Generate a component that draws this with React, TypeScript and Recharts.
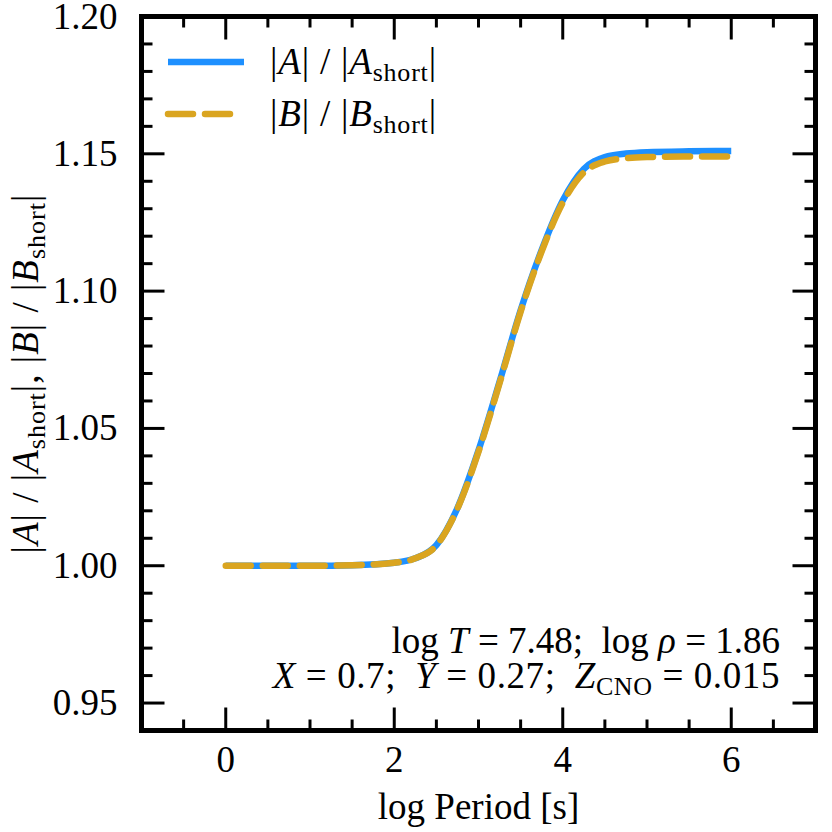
import React from 'react';
import { LineChart, Line, XAxis, YAxis, ReferenceArea, Customized } from 'recharts';

const logPeriod = [0, 0.5, 1, 1.5, 2, 2.25, 2.5, 2.75, 3, 3.25, 3.5, 3.75, 4, 4.25, 4.5, 4.75, 5, 5.5, 6];
const ratioA = [1.0, 1.0, 1.0, 1.0002, 1.0011, 1.0027, 1.0075, 1.021, 1.042, 1.067, 1.093, 1.115, 1.133, 1.1445, 1.1488, 1.1501, 1.1506, 1.1509, 1.151];
const ratioB = [1.0, 1.0, 1.0, 1.0002, 1.0011, 1.0027, 1.0074, 1.0208, 1.0415, 1.0665, 1.0925, 1.1145, 1.1322, 1.1432, 1.1472, 1.1484, 1.1488, 1.149, 1.149];

const xMajorTicks = [0, 2, 4, 6];
const xMinorTicks = [-0.5, 0.5, 1, 1.5, 2.5, 3, 3.5, 4.5, 5, 5.5, 6.5];
const yMajorTicks = [0.95, 1.0, 1.05, 1.1, 1.15, 1.2];
const yMinorTicks = [0.96, 0.97, 0.98, 0.99, 1.01, 1.02, 1.03, 1.04, 1.06, 1.07, 1.08, 1.09, 1.11, 1.12, 1.13, 1.14, 1.16, 1.17, 1.18, 1.19];

const legendLabels = ['A', 'B'];

const data = logPeriod.map((x, i) => ({ x, a: ratioA[i], b: ratioB[i] }));

const FONT = '"Liberation Serif", "Times New Roman", serif';
const FS = 37;
const SUB = 26;
const BLUE = '#1E90FF';
const GOLD = '#DAA520';
const DASH = '25 12';
const LW = 6.5;
const MAJ = 23;
const MIN = 11;
const TW = 3;

const CHART = 832;
const MARGIN = { top: 16.5, right: 14.5, bottom: 41.5, left: 61.5 };
const XAXIS_H = 60;
const PLOT_H = CHART - MARGIN.top - MARGIN.bottom - XAXIS_H;

const xTicks = [...xMinorTicks, ...xMajorTicks].sort((p, q) => p - q);
const yTicks = [...yMinorTicks, ...yMajorTicks].sort((p, q) => p - q);

const BottomTick = (props: any) => {
  const { x, y, payload } = props;
  const v = payload.value;
  const major = xMajorTicks.includes(v);
  const len = major ? MAJ : MIN;
  const top = y - PLOT_H;
  return (
    <g>
      <line x1={x} x2={x} y1={y} y2={y - len} stroke="#000" strokeWidth={TW} />
      <line x1={x} x2={x} y1={top} y2={top + len} stroke="#000" strokeWidth={TW} />
      {major && (
        <text x={x} y={y + 41.5} textAnchor="middle" fontFamily={FONT} fontSize={FS} fill="#000">
          {String(v)}
        </text>
      )}
    </g>
  );
};

const LeftTick = (props: any) => {
  const { x, y, payload } = props;
  const v = payload.value;
  const major = yMajorTicks.includes(v);
  return (
    <g>
      <line x1={x} x2={x + (major ? MAJ : MIN)} y1={y} y2={y} stroke="#000" strokeWidth={TW} />
      {major && (
        <text x={x - 24} y={y + 12} textAnchor="end" fontFamily={FONT} fontSize={FS} fill="#000">
          {v.toFixed(2)}
        </text>
      )}
    </g>
  );
};

const RightTick = (props: any) => {
  const { x, y, payload } = props;
  const major = yMajorTicks.includes(payload.value);
  return <line x1={x} x2={x - (major ? MAJ : MIN)} y1={y} y2={y} stroke="#000" strokeWidth={TW} />;
};

const Texts = () => (
  <g fontFamily={FONT} fill="#000">
    {legendLabels.map((L, i) => {
      const cy = 62 + i * 52;
      const color = i === 0 ? BLUE : GOLD;
      return (
        <g key={L}>
          <line
            x1={168}
            x2={i === 0 ? 244 : 240}
            y1={cy}
            y2={cy}
            stroke={color}
            strokeWidth={LW}
            strokeDasharray={i === 0 ? undefined : DASH}
            strokeLinecap={i === 0 ? 'butt' : 'round'}
          />
          <text x={270} y={cy + 12} fontSize={FS} letterSpacing={0.8}>
            |<tspan fontStyle="italic">{L}</tspan>| / |<tspan fontStyle="italic">{L}</tspan>
            <tspan fontSize={SUB} dy={7}>short</tspan>
            <tspan dy={-7}>|</tspan>
          </text>
        </g>
      );
    })}
    <text x={478.5} y={818.5} textAnchor="middle" fontSize={FS}>log Period [s]</text>
    <text transform="translate(37.5,373.5) rotate(-90)" textAnchor="middle" fontSize={FS} letterSpacing={1}>
      |<tspan fontStyle="italic">A</tspan>| / |<tspan fontStyle="italic">A</tspan>
      <tspan fontSize={SUB} dy={7}>short</tspan>
      <tspan dy={-7}>|, |</tspan>
      <tspan fontStyle="italic">B</tspan>| / |<tspan fontStyle="italic">B</tspan>
      <tspan fontSize={SUB} dy={7}>short</tspan>
      <tspan dy={-7}>|</tspan>
    </text>
    <text x={780} y={653} textAnchor="end" fontSize={FS}>
      log <tspan fontStyle="italic">T</tspan> = 7.48;{'\u2002'}log <tspan fontStyle="italic">ρ</tspan> = 1.86
    </text>
    <text x={780} y={688} textAnchor="end" fontSize={FS} letterSpacing={0.6}>
      <tspan fontStyle="italic">X</tspan> = 0.7;{'\u2002'}<tspan fontStyle="italic">Y</tspan> = 0.27;{'\u2002'}<tspan fontStyle="italic">Z</tspan>
      <tspan fontSize={SUB} dy={7}>CNO</tspan>
      <tspan dy={-7}> = 0.015</tspan>
    </text>
  </g>
);

export default function App() {
  return (
    <div style={{ position: 'fixed', top: 0, left: 0, width: CHART, height: CHART, background: '#fff' }}>
      <LineChart width={CHART} height={CHART} data={data} margin={MARGIN}>
        <XAxis
          xAxisId="b"
          dataKey="x"
          type="number"
          domain={[-1, 7]}
          allowDataOverflow
          ticks={xTicks}
          interval={0}
          tick={<BottomTick />}
          tickSize={0}
          tickMargin={0}
          tickLine={false}
          axisLine={false}
          height={XAXIS_H}
        />
        <YAxis
          yAxisId="l"
          type="number"
          domain={[0.94, 1.2]}
          allowDataOverflow
          ticks={yTicks}
          interval={0}
          tick={<LeftTick />}
          tickSize={0}
          tickMargin={0}
          tickLine={false}
          axisLine={false}
          width={80}
        />
        <YAxis
          yAxisId="r"
          orientation="right"
          type="number"
          domain={[0.94, 1.2]}
          allowDataOverflow
          ticks={yTicks}
          interval={0}
          tick={<RightTick />}
          tickSize={0}
          tickMargin={0}
          tickLine={false}
          axisLine={false}
          width={2}
        />
        <Line
          xAxisId="b"
          yAxisId="l"
          type="monotone"
          dataKey="a"
          stroke={BLUE}
          strokeWidth={LW}
          dot={false}
          activeDot={false}
          isAnimationActive={false}
        />
        <Line
          xAxisId="b"
          yAxisId="l"
          type="monotone"
          dataKey="b"
          stroke={GOLD}
          strokeWidth={LW}
          strokeDasharray={DASH}
          strokeLinecap="round"
          dot={false}
          activeDot={false}
          isAnimationActive={false}
        />
        <ReferenceArea
          xAxisId="b"
          yAxisId="l"
          x1={-1}
          x2={7}
          y1={0.94}
          y2={1.2}
          fill="none"
          fillOpacity={0}
          stroke="#000"
          strokeWidth={5}
          ifOverflow="visible"
        />
        <Customized component={<Texts />} />
      </LineChart>
    </div>
  );
}
